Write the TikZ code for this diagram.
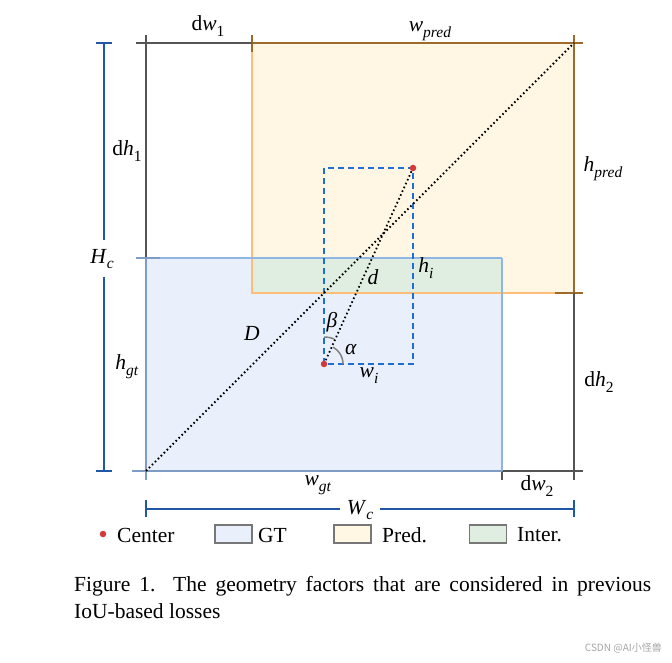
\documentclass[tikz,border=0pt]{standalone}
\usepackage{fontspec}
\setmainfont{Liberation Serif}
\newfontfamily\cjkfont{Noto Sans CJK SC}
\definecolor{gtfill}{HTML}{EAF0FB}
\definecolor{gtedge}{HTML}{8FB5E3}
\definecolor{gtleft}{HTML}{7F9CC6}
\definecolor{prfill}{HTML}{FFF6E3}
\definecolor{predge}{HTML}{FFBD7A}
\definecolor{brown}{HTML}{9C6A2B}
\definecolor{infill}{HTML}{E0EEE1}
\definecolor{dkgray}{HTML}{555555}
\definecolor{dashblue}{HTML}{1F6FD2}
\definecolor{brblue}{HTML}{2158A6}
\definecolor{ctrred}{HTML}{D23A3A}
\newcommand{\vsub}[2]{\textit{#1}\raisebox{-0.6ex}{\fontsize{15.5}{15.5}\selectfont #2}}
\tikzset{
  lab/.style={font=\fontsize{21.5}{23}\selectfont, inner sep=0pt},
  grayline/.style={draw=dkgray, line width=1.6pt},
  brownline/.style={draw=brown, line width=1.6pt},
  orangeline/.style={draw=predge, line width=1.6pt},
  gtline/.style={draw=gtedge, line width=1.6pt},
  gtleftline/.style={draw=gtleft, line width=1.8pt},
  bracket/.style={draw=brblue, line width=1.6pt},
  dashbox/.style={draw=dashblue, line width=1.7pt, dash pattern=on 6pt off 4pt},
  dotline/.style={draw=black, line width=1.8pt, dash pattern=on 1.6pt off 2.6pt},
  anglearc/.style={draw=gray, line width=1.5pt},
  legbox/.style={draw=dkgray!80, line width=1.4pt, minimum width=37pt, minimum height=18pt, inner sep=0pt},
  ctr/.style={circle, fill=ctrred, inner sep=0pt, minimum size=6.5pt}
}
\begin{document}
\begin{tikzpicture}[x=1pt,y=-1pt]
\useasboundingbox (0,0) rectangle (672,663);
\fill[white] (0,0) rectangle (672,663);
% fills
\fill[prfill] (252,43) rectangle (574,293);
\fill[gtfill] (146,258) rectangle (502,471);
\fill[infill] (252,258) rectangle (502,293);
% key points
\coordinate (pc) at (413,168);
\coordinate (gc) at (324,364);
\coordinate (bl) at (146,471);
\coordinate (tr) at (574,43);
% pred box edges
\draw[orangeline] (252,43) -- (252,293) -- (574,293);
\draw[brownline] (252,35) -- (252,52);
\draw[brownline] (252,43) -- (583,43);
\draw[brownline] (574,35) -- (574,293);
\draw[brownline] (555,293) -- (583,293);
% dw1 / dh1 gray
\draw[grayline] (136,43) -- (252,43);
\draw[grayline] (146,35) -- (146,258);
% dh2 / dw2 gray
\draw[grayline] (574,293) -- (574,480);
\draw[grayline] (502,471) -- (583,471);
\draw[grayline] (502,464) -- (502,480);
% GT edges
\draw[gtline] (502,258) -- (502,471);
\draw[gtline] (136,258) -- (502,258);
\draw[gtleftline] (132,471) -- (502,471);
\draw[gtleftline] (146,258) -- (146,480);
\draw[gtleftline] (136,258) -- (160,258);
% dashed intersection construction
\draw[dashbox] (gc) -- (324,168) -- (pc) -- (413,364) -- cycle;
% diagonals
\draw[dotline] (bl) -- (tr);
\draw[dotline] (gc) -- (pc);
% angle arcs (beta between vertical and d, alpha between horizontal and d)
\draw[anglearc, smooth, samples=12] plot[domain=90:68] ({324+27*cos(\x)},{364-27*sin(\x)});
\draw[anglearc, smooth, samples=12] plot[domain=0:62] ({324+19*cos(\x)},{364-19*sin(\x)});
% centers
\node[ctr] (pcn) at (pc) {};
\node[ctr] (gcn) at (gc) {};
% brackets
\draw[bracket] (96,43) -- (112,43);
\draw[bracket] (96,471) -- (112,471);
\draw[bracket] (104,43) -- (104,240);
\draw[bracket] (104,277) -- (104,471);
\draw[bracket] (146,500) -- (146,517);
\draw[bracket] (574,500) -- (574,517);
\draw[bracket] (146,509) -- (340,509);
\draw[bracket] (380,509) -- (574,509);
% labels
\node[lab] (ldw1) at (208,26) {d\vsub{w}{1}};
\node[lab] (lwp) at (430,31) {\vsub{w}{\textit{pred}}};
\node[lab] (ldh1) at (127,151) {d\vsub{h}{1}};
\node[lab] (lhp) at (603,169) {\vsub{h}{\textit{pred}}};
\node[lab] (lHc) at (102,259) {\vsub{H}{\textit{c}}};
\node[lab] (lhgt) at (127,367) {\vsub{h}{\textit{gt}}};
\node[lab] (lD) at (252,333) {\textit{D}};
\node[lab] (ld) at (373,277) {\textit{d}};
\node[lab] (lhi) at (426,268) {\vsub{h}{\textit{i}}};
\node[lab] (lb) at (332,322) {\textit{β}};
\node[lab] (la) at (351,350) {\textit{α}};
\node[lab] (lwi) at (369,376) {\vsub{w}{\textit{i}}};
\node[lab] (lwgt) at (318,485) {\vsub{w}{\textit{gt}}};
\node[lab] (ldw2) at (537,486) {d\vsub{w}{2}};
\node[lab] (ldh2) at (599,382) {d\vsub{h}{2}};
\node[lab] (lWc) at (360,510) {\vsub{W}{\textit{c}}};
% legend
\node[ctr] (lgc) at (103,534) {};
\node[lab, anchor=west] (lgct) at (117,535) {Center};
\node[legbox, fill=gtfill] (lg1) at (233.5,534) {};
\node[lab, anchor=west] (lg1t) at (258,535) {GT};
\node[legbox, fill=prfill] (lg2) at (352.5,534) {};
\node[lab, anchor=west] (lg2t) at (382,535) {Pred.};
\node[legbox, fill=infill] (lg3) at (488,534) {};
\node[lab, anchor=west] (lg3t) at (517,535) {Inter.};
% caption
\node[anchor=north west, inner sep=0pt, text width=577pt, align=justify, font=\fontsize{21.5}{27}\selectfont] (cap) at (74,576)
  {Figure 1.\ \ The geometry factors that are considered in previous\linebreak IoU-based losses};
% watermark
\node[anchor=east, inner sep=0pt, text=gray!70, font=\cjkfont\fontsize{10}{12}\selectfont] (wm) at (662,648) {CSDN @AI小怪兽};
\end{tikzpicture}
\end{document}
